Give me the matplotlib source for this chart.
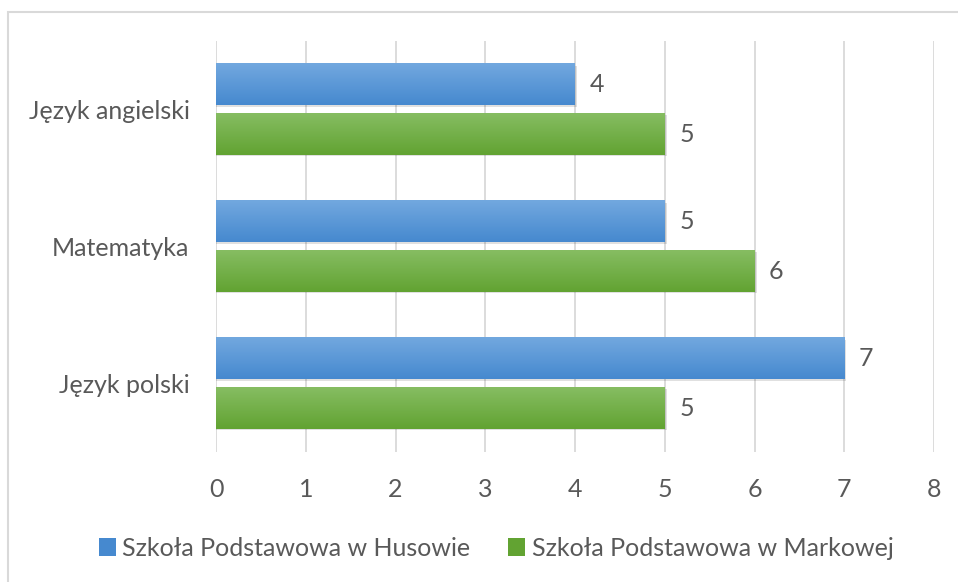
import matplotlib.pyplot as plt
from matplotlib.patches import Rectangle
import numpy as np

# Data (bottom to top)
categories = ["Język polski", "Matematyka", "Język angielski"]
husow = [7, 5, 4]
markowa = [5, 6, 5]
series_names = ["Szkoła Podstawowa w Husowie", "Szkoła Podstawowa w Markowej"]
x_ticks = [0, 1, 2, 3, 4, 5, 6, 7, 8]

plt.rcParams['font.family'] = ['Lato', 'DejaVu Sans']
txt_color = '#595959'
fs = 18

W, H = 958, 582
fig = plt.figure(figsize=(W / 100, H / 100), dpi=100)
ax = fig.add_axes([216 / W, 1 - 452 / H, (934 - 216) / W, (452 - 41) / H])

# chart border (cropped on right and bottom)
fig.patches.append(Rectangle((8 / W, -0.1), 1.2, 1 - 12 / H + 0.1, transform=fig.transFigure,
                             fill=False, edgecolor='#d9d9d9', linewidth=1.5))

bar_h = 0.30
off = 0.18
grads = [('#72a8df', '#4689cf'), ('#86bd62', '#62a332')]

def grad_bar(x, y, w, h, cols):
    # shadow
    ax.add_patch(Rectangle((x, y - h / 2 - 0.012), w + 0.025, h, facecolor='#000000',
                           alpha=0.12, edgecolor='none', zorder=2))
    c1 = np.array(plt.matplotlib.colors.to_rgb(cols[0]))
    c2 = np.array(plt.matplotlib.colors.to_rgb(cols[1]))
    t = np.linspace(0, 1, 50)[:, None]
    img = (c1 * (1 - t) + c2 * t)[:, None, :]
    ax.imshow(img, extent=[x, x + w, y - h / 2, y + h / 2], origin='upper',
              aspect='auto', zorder=3, interpolation='bilinear')

ypos = np.arange(len(categories))
for i, y in enumerate(ypos):
    for val, yy, cols in [(husow[i], y + off, grads[0]), (markowa[i], y - off, grads[1])]:
        grad_bar(0, yy, val, bar_h, cols)
        ax.text(val + 0.16, yy, str(val), va='center', ha='left', fontsize=fs, color=txt_color)

ax.set_xlim(0, 8)
ax.set_ylim(-0.5, 2.5)
ax.set_xticks(x_ticks)
ax.set_xticklabels([str(v) for v in x_ticks], fontsize=fs, color=txt_color)
ax.set_yticks(ypos)
ax.set_yticklabels(categories, fontsize=fs, color=txt_color)
ax.tick_params(length=0)
ax.tick_params(axis='x', pad=19)
ax.tick_params(axis='y', pad=19)
ax.grid(axis='x', color='#d9d9d9', linewidth=1.3, zorder=0)
ax.set_axisbelow(True)
for s in ax.spines.values():
    s.set_visible(False)

handles = [Rectangle((0, 0), 1, 1, facecolor=grads[0][1]), Rectangle((0, 0), 1, 1, facecolor=grads[1][1])]
leg = fig.legend(handles, series_names, loc='center', bbox_to_anchor=(496 / W, 1 - 548 / H), ncol=2,
                 frameon=False, fontsize=fs, handlelength=0.7, handleheight=0.7, handletextpad=0.25,
                 columnspacing=1.5, labelcolor=txt_color)

fig.savefig('out.png', dpi=100)
